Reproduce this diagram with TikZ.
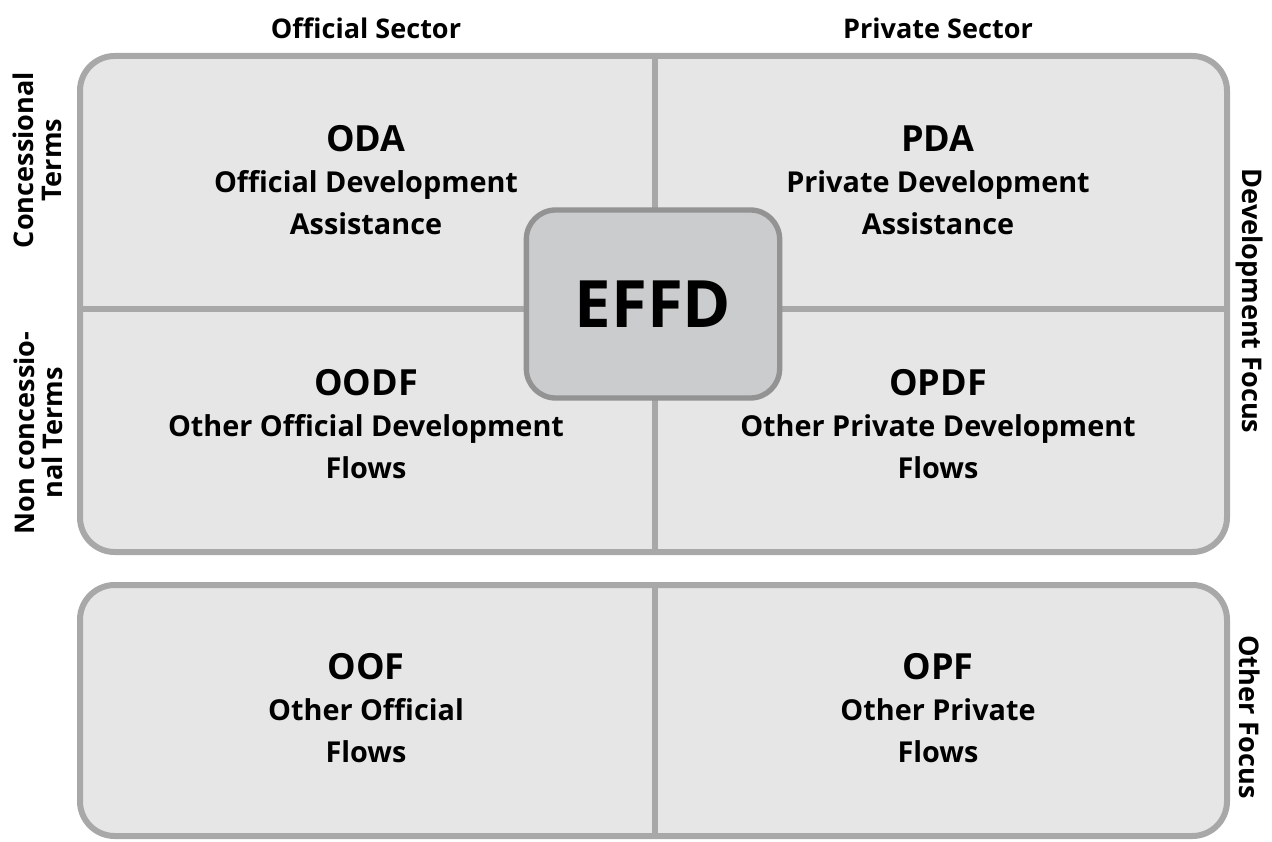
\documentclass[tikz,border=0pt]{standalone}
\usepackage{fontspec}
\setmainfont{Open Sans}
\begin{document}
\begin{tikzpicture}[x=0.75pt,y=-0.75pt,
  panel/.style={draw=frame,line width=4.5pt,fill=panelfill,rounded corners=26pt},
  divider/.style={draw=frame,line width=4pt},
  hub/.style={draw=hubline,line width=4pt,fill=hubfill,rounded corners=22pt},
  head/.style={font=\bfseries\fontsize{20.3}{22}\selectfont,align=center},
  side/.style={font=\bfseries\fontsize{20.3}{21}\selectfont,align=center},
  quad/.style={font=\bfseries\fontsize{21.6}{31}\selectfont,align=center},
  abbr/.style={font=\bfseries\fontsize{27}{31}\selectfont}]
\definecolor{frame}{HTML}{A8A8A8}
\definecolor{panelfill}{HTML}{E6E6E6}
\definecolor{hubline}{HTML}{939393}
\definecolor{hubfill}{HTML}{CBCCCD}
\useasboundingbox (0,0) rectangle (1272,842);
% top panel
\path[panel] (80,56) rectangle (1227,552);
\coordinate (tt) at (655,56); \coordinate (tb) at (655,552);
\coordinate (tl) at (80,309); \coordinate (tr) at (1227,309);
\draw[divider] (tt) -- (tb);
\draw[divider] (tl) -- (tr);
% bottom panel
\path[panel] (80,585) rectangle (1227,836);
\coordinate (bt) at (655,585); \coordinate (bb) at (655,836);
\draw[divider] (bt) -- (bb);
% hub
\node[hub,minimum width=190pt,minimum height=141pt,font=\bfseries\fontsize{49}{56}\selectfont] (effd) at (653,304) {EFFD};
% headers
\node[head] (off) at (366,28) {Official Sector};
\node[head] (priv) at (938,28) {Private Sector};
\node[side,rotate=90] (conc) at (37,160) {Concessional\\Terms};
\node[side,rotate=90] (nonc) at (38,433) {Non concessio-\\nal Terms};
\node[side,rotate=-90] (dev) at (1250,301) {Development Focus};
\node[side,rotate=-90] (oth) at (1250,717) {Other Focus};
% quadrants
\node[quad] (oda) at (366,180) {{\fontsize{27}{31}\selectfont ODA}\\Official Development\\Assistance};
\node[quad] (pda) at (938,180) {{\fontsize{27}{31}\selectfont PDA}\\Private Development\\Assistance};
\node[quad] (oodf) at (366,424) {{\fontsize{27}{31}\selectfont OODF}\\Other Official Development\\Flows};
\node[quad] (opdf) at (938,424) {{\fontsize{27}{31}\selectfont OPDF}\\Other Private Development\\Flows};
\node[quad] (oof) at (366,708) {{\fontsize{27}{31}\selectfont OOF}\\Other Official\\Flows};
\node[quad] (opf) at (938,708) {{\fontsize{27}{31}\selectfont OPF}\\Other Private\\Flows};
\end{tikzpicture}
\end{document}
